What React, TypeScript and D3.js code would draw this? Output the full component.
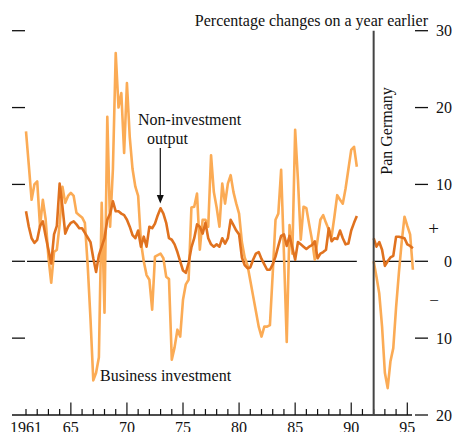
import React from "react";
import * as d3 from "d3";

// quarterly, per cent change on a year earlier
const westStart = 1961;
const businessWest = [
  16.9, 12.5, 8.0, 10.0, 10.4, 4.5, 8.0, 5.5, 0.5, -2.8,
  1.2, 1.5, 4.8, 9.7, 7.6, 8.5, 8.9, 8.5, 6.3, 6.0,
  5.7, 5.0, -0.5, -7.5, -15.5, -14.5, -12.5, 7.6, -6.7, 18.8,
  4.5, 12.0, 27.1, 20.0, 21.9, 14.1, 23.2, 16.2, 12.0, 9.7,
  8.5, 2.5, 0.0, -1.8, -2.4, -6.3, 0.6, 0.8, 1.0, 0.4,
  -2.0, -2.3, -12.8, -11.2, -8.9, -9.8, -5.0, -3.0, -2.4, 7.0,
  7.1, 8.8, 1.5, 5.4, 5.4, 4.5, 13.8, 9.0, 7.0, 4.5,
  10.1, 7.5, 10.1, 11.2, 9.0, 7.5, 6.2, 2.5, 0.5, -0.5,
  -2.5, -4.5, -6.5, -8.5, -9.8, -8.5, -8.5, -8.3, -1.6, 5.4,
  6.2, 11.9, 1.0, -10.5, 4.7, 1.0, 17.1, 10.6, 2.8, 7.1,
  6.9, 4.8, 2.8, 0.2, 2.8, 5.4, 6.0, 5.0, 4.1, 3.2,
  5.8, 8.6, 8.0, 7.5, 9.5, 12.0, 14.5, 14.9, 12.3,
];
const nonInvWest = [
  6.5, 4.5, 3.0, 2.4, 2.8, 4.6, 5.2, 3.3, 1.5, -0.3,
  3.5, 4.6, 10.1, 7.1, 3.6, 4.5, 5.0, 5.2, 4.8, 4.3,
  4.3, 3.7, 3.1, 2.5, 0.4, -1.4, 0.8, 1.9, 3.0, 5.4,
  6.2, 7.8, 6.5, 6.5, 6.2, 6.0, 5.4, 4.5, 3.4, 3.0,
  4.0, 1.9, 3.2, 1.9, 4.5, 4.3, 4.9, 6.0, 6.9, 6.2,
  5.0, 3.0, 2.8, 2.2, 1.2, 0.0, -1.2, -1.5, -0.2, 1.8,
  3.0, 4.8, 4.5, 3.6, 5.0, 3.0, 2.2, 1.9, 2.2, 1.9,
  3.0, 2.3, 3.0, 5.4, 4.7, 4.0, 3.5, 0.5, -0.5, -0.9,
  -0.8, 0.2, 1.0, 1.2, 0.3, -0.4, -1.1, -1.1, -0.4, 0.6,
  2.0, 3.3, 3.5, 2.0, 3.3, 1.8, 0.2, 2.5, 2.2, 1.9,
  1.6, 1.9, 2.1, 2.6, 0.4, 1.0, 1.2, 1.5, 4.3, 2.6,
  3.0, 2.9, 4.0, 3.0, 2.2, 2.3, 4.0, 5.0, 5.9,
];

const panStart = 1992;
const businessPan = [0.0, -2.0, -4.2, -8.5, -14.5, -16.5, -13.0, -11.3, -6.0, -1.5, 2.5, 5.8, 4.6, 3.5, -1.1];
const nonInvPan = [3.0, 1.9, 2.5, 1.5, -0.6, 0.0, 0.5, 0.7, 3.2, 3.2, 3.1, 3.0, 2.2, 2.0, 1.7];

const yTicks = [30, 20, 10, 0, -10, -20];
const yTickLabels = ["30", "20", "10", "0", "10", "20"];
const xLabelYears = [1961, 1965, 1970, 1975, 1980, 1985, 1990, 1995];
const xLabels = ["1961", "65", "70", "75", "80", "85", "90", "95"];

const lightOrange = "#fbab55";
const darkOrange = "#e0721f";
const font = "'Liberation Serif', 'Times New Roman', serif";

export default function App() {
  const width = 453;
  const height = 432;

  const x = d3.scaleLinear().domain([1961, 1995]).range([26, 407.3]);
  const y = d3.scaleLinear().domain([-20, 30]).range([415, 30.7]);

  const toPoints = (vals: number[], start: number): [number, number][] =>
    vals.map((v, i) => [start + i * 0.25, v]);

  const line = d3
    .line<[number, number]>()
    .x((d) => x(d[0]))
    .y((d) => y(d[1]));

  const splitYear = 1992;
  const westEnd = westStart + (businessWest.length - 1) * 0.25;
  const panEnd = panStart + (businessPan.length - 1) * 0.25;

  const years = d3.range(1961, 1996);

  return (
    <svg
      width={width}
      height={height}
      style={{ position: "absolute", left: 0, top: 0, background: "#fff" }}
      fontFamily={font}
    >
      {/* title */}
      <text x={428} y={26} fontSize={16} textAnchor="end" fill="#111">
        Percentage changes on a year earlier
      </text>

      {/* left tick dashes */}
      {yTicks.slice(0, 5).map((t) => (
        <line key={"l" + t} x1={12} x2={25} y1={y(t)} y2={y(t)} stroke="#111" strokeWidth={1.3} />
      ))}

      {/* right tick dashes and labels */}
      {yTicks.map((t, i) => (
        <g key={"r" + t}>
          <line x1={415} x2={428} y1={y(t)} y2={y(t)} stroke="#111" strokeWidth={1.3} />
          <text x={452} y={y(t)} dy="0.35em" fontSize={16} textAnchor="end" fill="#111">
            {yTickLabels[i]}
          </text>
        </g>
      ))}
      <text x={433.5} y={y(4.3)} dy="0.35em" fontSize={19} textAnchor="middle" fill="#111">
        +
      </text>
      <text x={434} y={y(-5)} dy="0.35em" fontSize={17} textAnchor="middle" fill="#111">
        −
      </text>

      {/* zero lines */}
      <line x1={27} x2={x(westEnd)} y1={y(0)} y2={y(0)} stroke="#111" strokeWidth={1.3} />
      <line x1={x(splitYear)} x2={x(panEnd)} y1={y(0)} y2={y(0)} stroke="#111" strokeWidth={1.3} />

      {/* series */}
      <path d={line(toPoints(businessWest, westStart)) || ""} fill="none" stroke={lightOrange} strokeWidth={2.6} strokeLinejoin="round" />
      <path d={line(toPoints(businessPan, panStart)) || ""} fill="none" stroke={lightOrange} strokeWidth={2.6} strokeLinejoin="round" />
      <path d={line(toPoints(nonInvWest, westStart)) || ""} fill="none" stroke={darkOrange} strokeWidth={2.6} strokeLinejoin="round" />
      <path d={line(toPoints(nonInvPan, panStart)) || ""} fill="none" stroke={darkOrange} strokeWidth={2.6} strokeLinejoin="round" />

      {/* bottom axis */}
      <line x1={12} x2={412} y1={y(-20)} y2={y(-20)} stroke="#111" strokeWidth={1.3} />
      {years.map((yr) => (
        <line
          key={"t" + yr}
          x1={x(yr)}
          x2={x(yr)}
          y1={y(-20)}
          y2={y(-20) - (yr % 5 === 0 ? 12.5 : 6)}
          stroke="#111"
          strokeWidth={1.2}
        />
      ))}
      {xLabelYears.map((yr, i) => (
        <text key={"xl" + yr} x={x(yr)} y={433} fontSize={16} textAnchor="middle" fill="#111">
          {xLabels[i]}
        </text>
      ))}

      {/* Pan Germany divider */}
      <line x1={x(splitYear)} x2={x(splitYear)} y1={y(30)} y2={y(-20)} stroke="#444" strokeWidth={2} />
      <text
        transform={`translate(392,${131}) rotate(-90)`}
        fontSize={16}
        textAnchor="middle"
        fill="#111"
      >
        Pan Germany
      </text>

      {/* annotations */}
      <text x={138} y={125} fontSize={16} fill="#111">
        Non-investment
      </text>
      <text x={147} y={144} fontSize={16} fill="#111">
        output
      </text>
      <line x1={160.3} x2={160.3} y1={148} y2={196} stroke="#111" strokeWidth={1.2} />
      <path d="M156.8,195 L163.8,195 L160.3,203.5 Z" fill="#111" />
      <text x={100} y={381} fontSize={16} fill="#111">
        Business investment
      </text>
    </svg>
  );
}
